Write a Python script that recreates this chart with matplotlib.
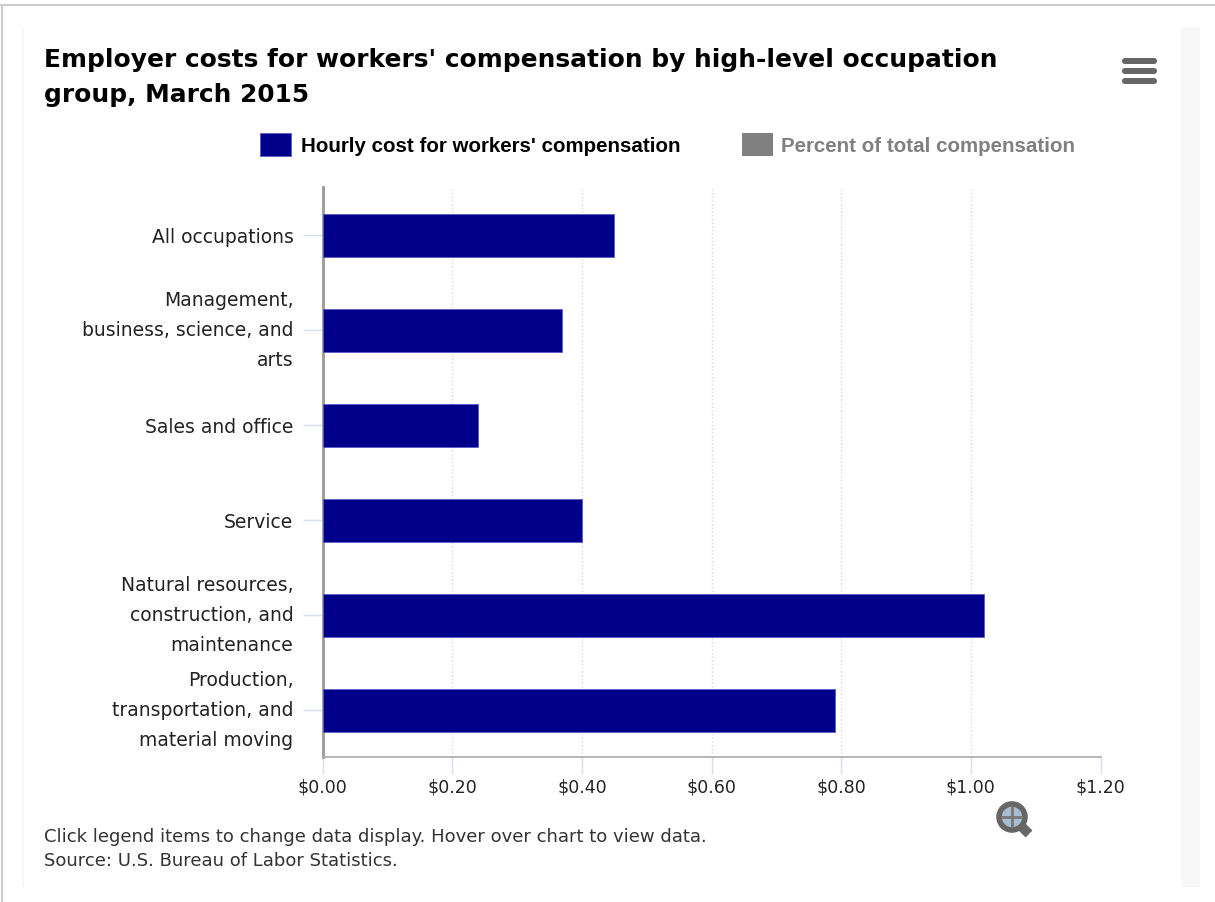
import matplotlib
matplotlib.use("Agg")
from matplotlib import pyplot as plt
from matplotlib.patches import Rectangle, Circle, FancyBboxPatch
from matplotlib.lines import Line2D

# values
categories = ["All occupations", "Management,\nbusiness, science, and\narts", "Sales and office",
              "Service", "Natural resources,\nconstruction, and\nmaintenance",
              "Production,\ntransportation, and\nmaterial moving"]
hourly_cost = [0.45, 0.37, 0.24, 0.40, 1.02, 0.79]
x_ticks = [0.0, 0.2, 0.4, 0.6, 0.8, 1.0, 1.2]
x_labels = ["$0.00", "$0.20", "$0.40", "$0.60", "$0.80", "$1.00", "$1.20"]

W, H = 1215, 902
navy = "#00008b"


def px(x, y):
    # pixel position to figure fraction
    return x / W, 1 - y / H


fig = plt.figure(figsize=(W / 100, H / 100), dpi=100, facecolor="white")

# page frame and panel behind the chart
fig.add_artist(Rectangle(px(22, 887), 1178 / W, 860 / H, transform=fig.transFigure, fc="#f8f8f8", ec="none", zorder=-3))
fig.add_artist(Rectangle(px(24, 887), 1157 / W, 860 / H, transform=fig.transFigure, fc="white", ec="none", zorder=-2))
fig.add_artist(Line2D([0, 1], [1 - 5 / H] * 2, transform=fig.transFigure, color="#cccccc", lw=1.5, zorder=-1))
fig.add_artist(Line2D([2 / W] * 2, [0, 1 - 5 / H], transform=fig.transFigure, color="#cccccc", lw=1.5, zorder=-1))

ax = fig.add_axes([322.5 / W, 1 - 757 / H, (1101 - 323) / W, (757 - 187) / H])
ax.set_facecolor("none")
ax.barh(range(len(categories)), hourly_cost, height=0.46, color=navy, edgecolor="#5a5ac8", linewidth=0.6, zorder=3)
ax.set_ylim(5.49, -0.51)
ax.set_xlim(0, 1.2)

ax.set_xticks(x_ticks)
ax.set_xticklabels(x_labels, fontsize=12.5, color="#222222", family="DejaVu Sans")
ax.set_yticks(range(len(categories)))
ax.set_yticklabels(categories, fontsize=13.5, color="#222222", family="DejaVu Sans", linespacing=1.74)
# three line labels sit a bit higher than the default anchor puts them
for label in ax.get_yticklabels():
    if "\n" in label.get_text():
        label.set_va("center")
ax.tick_params(axis="x", length=12.5, width=1, color="#d5e0ee", pad=3, direction="out")
ax.tick_params(axis="y", length=14.4, width=1, color="#d5e0ee", pad=6.5)
ax.xaxis.grid(True, linestyle=":", color="#d8d8d8", linewidth=1, zorder=0)
ax.set_axisbelow(True)

for side in ["top", "right"]:
    ax.spines[side].set_visible(False)
ax.spines["left"].set_color("#999999")
ax.spines["left"].set_linewidth(2)
ax.spines["bottom"].set_color("#aaaaaa")
ax.spines["bottom"].set_linewidth(1.2)

# title
x, y = px(44, 60)
fig.text(x, y, "Employer costs for workers' compensation by high-level occupation", fontsize=17.9,
         fontweight="bold", family="DejaVu Sans", va="center", color="black")
x, y = px(44, 95)
fig.text(x, y, "group, March 2015", fontsize=17.9, fontweight="bold", family="DejaVu Sans", va="center", color="black")

# legend
fig.add_artist(Rectangle(px(260, 156), 31 / W, 23 / H, transform=fig.transFigure, fc=navy, ec="#5a5ac8", lw=0.6))
x, y = px(301, 147)
fig.text(x, y, "Hourly cost for workers' compensation", fontsize=14.8, fontweight="bold", family="Liberation Sans", va="center", color="black")
fig.add_artist(Rectangle(px(742, 156), 31 / W, 23 / H, transform=fig.transFigure, fc="#808080", ec="none"))
x, y = px(781, 147)
fig.text(x, y, "Percent of total compensation", fontsize=14.8, fontweight="bold", family="Liberation Sans", va="center", color="#808080")

# footnote
x, y = px(44, 837)
fig.text(x, y, "Click legend items to change data display. Hover over chart to view data.", fontsize=13, color="#333333", family="DejaVu Sans", va="center")
x, y = px(44, 861)
fig.text(x, y, "Source: U.S. Bureau of Labor Statistics.", fontsize=13, color="#333333", family="DejaVu Sans", va="center")

# menu icon and zoom icon, drawn in a pixel overlay
overlay = fig.add_axes([0, 0, 1, 1], facecolor="none")
overlay.set_xlim(0, W)
overlay.set_ylim(H, 0)
overlay.axis("off")
for yy in [61, 71, 81]:
    overlay.add_patch(FancyBboxPatch((1122, yy - 3), 35, 6, boxstyle="round,pad=0,rounding_size=3", fc="#666666", ec="none"))
overlay.plot([1020, 1029], [825, 834], color="#666666", lw=7, solid_capstyle="butt")
overlay.add_patch(Circle((1012, 817), 13, fc="#a9bdd2", ec="#666666", lw=4))
overlay.plot([1012, 1012], [808, 826], color="#777777", lw=2)
overlay.plot([1003, 1021], [817, 817], color="#777777", lw=2)

fig.savefig("out.png", dpi=100)
